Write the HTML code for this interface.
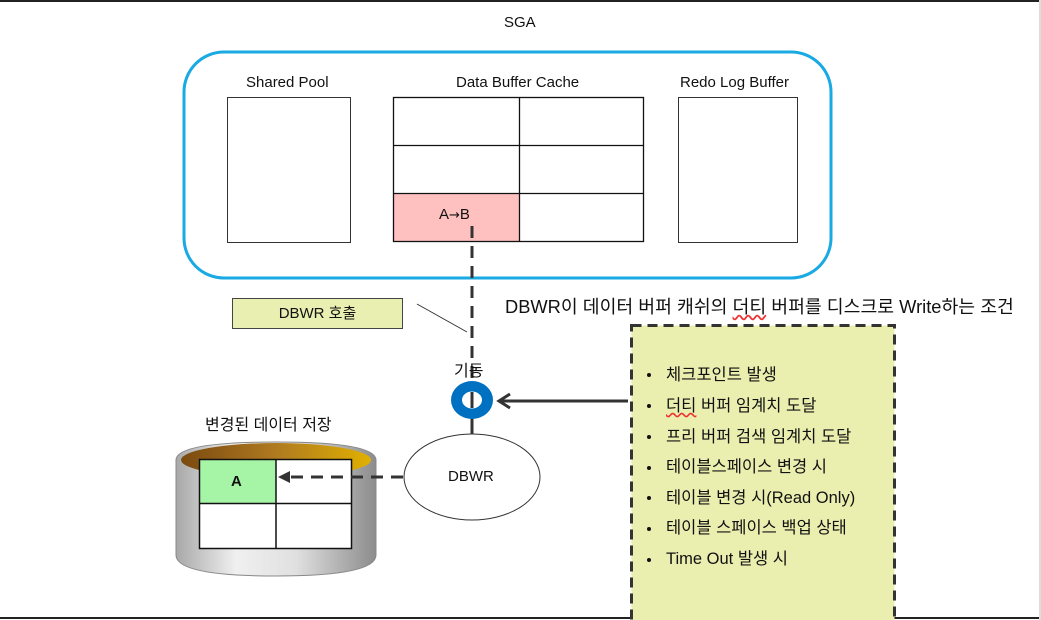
<!DOCTYPE html>
<html><head><meta charset="utf-8"><style>
body{margin:0;width:1041px;height:620px;position:relative;background:#fff;overflow:hidden;font-family:"Liberation Sans","Noto Sans CJK KR",sans-serif;color:#111}
.t{position:absolute;white-space:nowrap}
.b{position:absolute;left:647px;width:4px;height:4px;border-radius:2px;background:#111}
.l{position:absolute;left:666px;font-size:16.5px;white-space:nowrap;line-height:20px}
</style></head><body>
<svg width="1041" height="620" style="position:absolute;left:0;top:0">
<defs>
<linearGradient id="cyl" x1="0" x2="1"><stop offset="0" stop-color="#a8a8a8"/><stop offset="0.3" stop-color="#f0f0f0"/><stop offset="0.6" stop-color="#e0e0e0"/><stop offset="1" stop-color="#8c8c8c"/></linearGradient>
<linearGradient id="gold" x1="0" x2="1"><stop offset="0" stop-color="#7a4a10"/><stop offset="0.5" stop-color="#b07a20"/><stop offset="1" stop-color="#e0b000"/></linearGradient>
</defs>
<line x1="0" y1="1" x2="1041" y2="1" stroke="#222" stroke-width="2"/>
<line x1="0" y1="618" x2="1041" y2="618" stroke="#222" stroke-width="2"/>
<line x1="1040" y1="0" x2="1040" y2="620" stroke="#ddd" stroke-width="2"/>
<rect x="184" y="52" width="647" height="226" rx="40" fill="none" stroke="#19a9e3" stroke-width="3"/>
<rect x="227.5" y="97.5" width="123" height="145" fill="#fff" stroke="#333"/>
<rect x="678.5" y="97.5" width="119" height="145" fill="#fff" stroke="#333"/>
<rect x="393.5" y="193" width="126" height="48" fill="#ffc0c0"/>
<g stroke="#111" stroke-width="1.3" fill="none">
<rect x="393.5" y="97.5" width="250" height="144"/>
<line x1="519.5" y1="97" x2="519.5" y2="241"/>
<line x1="393" y1="145.5" x2="643" y2="145.5"/>
<line x1="393" y1="193.5" x2="643" y2="193.5"/>
</g>
<line x1="472" y1="226" x2="472" y2="380" stroke="#333" stroke-width="3" stroke-dasharray="12,8"/>
<line x1="472" y1="418" x2="472" y2="434" stroke="#333" stroke-width="3"/>
<line x1="417" y1="304" x2="467" y2="332" stroke="#333" stroke-width="1"/>
<ellipse cx="472" cy="400" rx="21" ry="19" fill="#0070c0"/>
<ellipse cx="472" cy="400" rx="10" ry="8.5" fill="#fff"/>
<line x1="472" y1="392" x2="472" y2="408" stroke="#333" stroke-width="3"/>
<line x1="628" y1="401" x2="499" y2="401" stroke="#333" stroke-width="3"/>
<polyline points="510,394 499,401 510,408" fill="none" stroke="#333" stroke-width="3"/>
<ellipse cx="472" cy="477" rx="68" ry="43" fill="#fff" stroke="#333" stroke-width="1"/>
<path d="M176,460 Q176,442 276,442 Q376,442 376,460 L376,555 Q376,576 276,576 Q176,576 176,555 Z" fill="url(#cyl)" stroke="#888"/>
<ellipse cx="276" cy="460" rx="95" ry="17" fill="url(#gold)"/>
<rect x="199.5" y="459.5" width="77" height="44" fill="#a6f5a6"/>
<rect x="276.5" y="459.5" width="75" height="44" fill="#fff"/>
<rect x="199.5" y="503.5" width="152" height="45" fill="#fff"/>
<g stroke="#111" stroke-width="1.5" fill="none">
<rect x="199.5" y="459.5" width="152" height="89"/>
<line x1="276" y1="459" x2="276" y2="548"/>
<line x1="199" y1="503.5" x2="351" y2="503.5"/>
</g>
<line x1="403" y1="477" x2="288" y2="477" stroke="#333" stroke-width="3" stroke-dasharray="12,8"/>
<polygon points="278,477 290,471 290,483" fill="#333"/>
<rect x="631.5" y="325.5" width="263" height="300" fill="#eaefb0" stroke="#333" stroke-width="3" stroke-dasharray="10,6"/>
</svg>
<div class="t" style="left:504px;top:14px;font-size:15px">SGA</div>
<div class="t" style="left:246px;top:74px;font-size:15px">Shared Pool</div>
<div class="t" style="left:456px;top:74px;font-size:15px">Data Buffer Cache</div>
<div class="t" style="left:680px;top:74px;font-size:15px">Redo Log Buffer</div>
<div class="t" style="left:439px;top:206px;font-size:15px">A<span style="font-family:'DejaVu Sans';font-size:13px">→</span>B</div>
<div class="t" style="left:232px;top:298px;width:169px;height:29px;background:#e9efb1;border:1px solid #444;font-size:15px;line-height:29px;text-align:center">DBWR 호출</div>
<div class="t" style="left:505px;top:293px;font-size:18.3px">DBWR이 데이터 버퍼 캐쉬의 <span style="text-decoration:underline wavy #e33">더티</span> 버퍼를 디스크로 Write하는 조건</div>
<div class="t" style="left:454px;top:357px;font-size:16px">기동</div>
<div class="t" style="left:205px;top:411px;font-size:16px">변경된 데이터 저장</div>
<div class="t" style="left:231px;top:473px;font-size:15px;font-weight:bold">A</div>
<div class="t" style="left:448px;top:468px;font-size:15px">DBWR</div>
<div class="b" style="top:373px"></div><div class="l" style="top:365px">체크포인트 발생</div>
<div class="b" style="top:404px"></div><div class="l" style="top:396px"><span style="text-decoration:underline wavy #e33">더티</span> 버퍼 임계치 도달</div>
<div class="b" style="top:435px"></div><div class="l" style="top:427px">프리 버퍼 검색 임계치 도달</div>
<div class="b" style="top:466px"></div><div class="l" style="top:457px">테이블스페이스 변경 시</div>
<div class="b" style="top:496px"></div><div class="l" style="top:488px">테이블 변경 시(Read Only)</div>
<div class="b" style="top:527px"></div><div class="l" style="top:518px">테이블 스페이스 백업 상태</div>
<div class="b" style="top:558px"></div><div class="l" style="top:549px">Time Out 발생 시</div>
</body></html>
